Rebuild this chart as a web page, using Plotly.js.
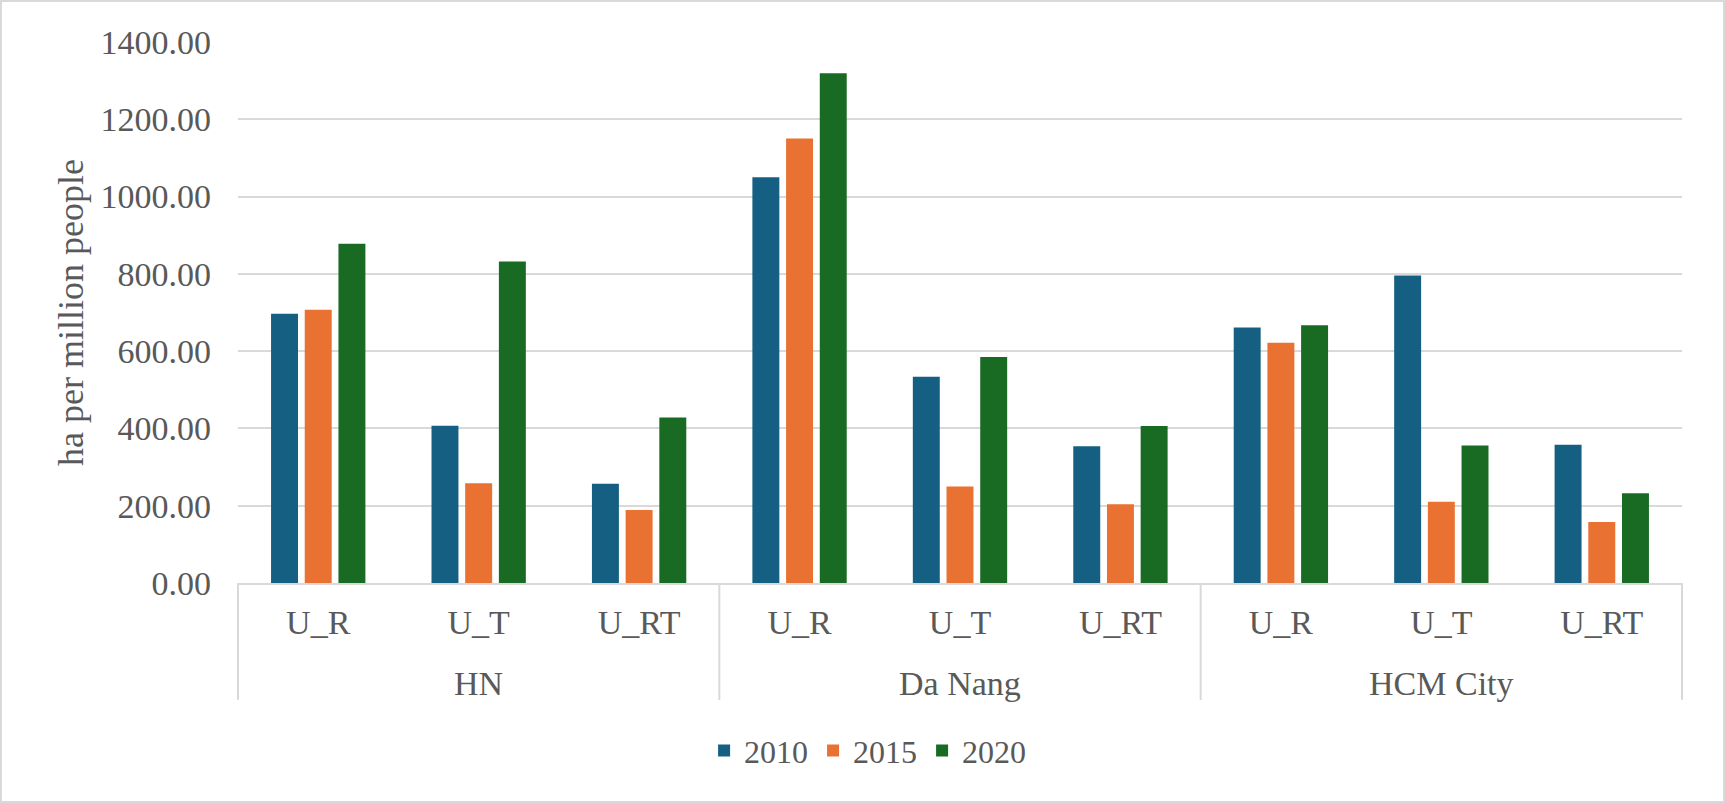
<!DOCTYPE html>
<html>
<head>
<meta charset="utf-8">
<script src="https://cdn.plot.ly/plotly-3.0.1.min.js"></script>
<style>
  html, body { margin: 0; padding: 0; background: #ffffff; }
  #chart { width: 1725px; height: 803px; box-sizing: border-box; border: 2px solid #d9d9d9; }
</style>
</head>
<body>
<div id="chart"></div>
<script>
// cities (outer level) and indicator (inner level)
const cities = ["HN", "HN", "HN", "Da Nang", "Da Nang", "Da Nang", "HCM City", "HCM City", "HCM City"];
const indicators = ["U_R", "U_T", "U_RT", "U_R", "U_T", "U_RT", "U_R", "U_T", "U_RT"];

// ha per million people
const y2010 = [697, 407, 257, 1050, 534, 354, 661, 796, 358];
const y2015 = [707, 258, 189, 1150, 250, 204, 622, 210, 158];
const y2020 = [878, 832, 428, 1319, 585, 406, 667, 356, 232];

const years = ["2010", "2015", "2020"];
const colors = ["#156082", "#E97132", "#196B24"];

const FONT = "Liberation Serif, Times New Roman, serif";
const TXT = "#595959";
const GRID = "#d9d9d9";

// one slot per (city, indicator) pair on the x axis
const slots = indicators.map((_, i) => i);

const traces = [y2010, y2015, y2020].map((vals, i) => ({
  type: "bar",
  name: years[i],
  x: slots,
  y: vals,
  marker: { color: colors[i], line: { width: 0 } },
}));

// outer-level labels and divider lines, worked out from the city list
const groups = [];
cities.forEach((c, i) => {
  const g = groups[groups.length - 1];
  if (g && g.name === c) g.last = i;
  else groups.push({ name: c, first: i, last: i });
});

const n = slots.length;
const groupLabels = groups.map((g) => ({
  text: g.name,
  xref: "x",
  yref: "paper",
  x: (g.first + g.last) / 2,
  y: -0.186,
  yanchor: "middle",
  showarrow: false,
  font: { family: FONT, size: 34, color: TXT },
}));

const edges = [0, ...groups.map((g) => (g.last + 1) / n)];
const dividers = edges.map((e) => ({
  type: "line",
  xref: "paper",
  yref: "paper",
  x0: e, x1: e,
  y0: 0, y1: -0.216,
  line: { color: GRID, width: 2 },
}));

const layout = {
  width: 1721,
  height: 799,
  paper_bgcolor: "#ffffff",
  plot_bgcolor: "#ffffff",
  font: { family: FONT, size: 34, color: TXT },
  margin: { l: 236, r: 41, t: 40, b: 218 },
  barmode: "group",
  bargap: 0.37,
  bargroupgap: 0.2,
  showlegend: true,
  legend: {
    orientation: "h",
    x: 0.436,
    xanchor: "center",
    y: -0.31,
    yanchor: "middle",
    font: { family: FONT, size: 32, color: TXT },
    traceorder: "normal",
  },
  xaxis: {
    type: "linear",
    range: [-0.5, n - 0.5],
    tickvals: slots,
    ticktext: indicators,
    showline: true,
    linecolor: GRID,
    linewidth: 2,
    showgrid: false,
    zeroline: false,
    ticks: "",
    ticklabelstandoff: 8,
    tickfont: { family: FONT, size: 34, color: TXT },
  },
  yaxis: {
    range: [0, 1400],
    dtick: 200,
    tickformat: ".2f",
    gridcolor: GRID,
    gridwidth: 2,
    zeroline: false,
    showline: false,
    ticks: "",
    ticklabelstandoff: 26,
    tickfont: { family: FONT, size: 34, color: TXT },
    title: {
      text: "ha per million people",
      font: { family: FONT, size: 36, color: TXT },
      standoff: 5,
    },
  },
  annotations: groupLabels,
  shapes: dividers,
};

Plotly.newPlot("chart", traces, layout, { displayModeBar: false, staticPlot: true });
</script>
</body>
</html>
